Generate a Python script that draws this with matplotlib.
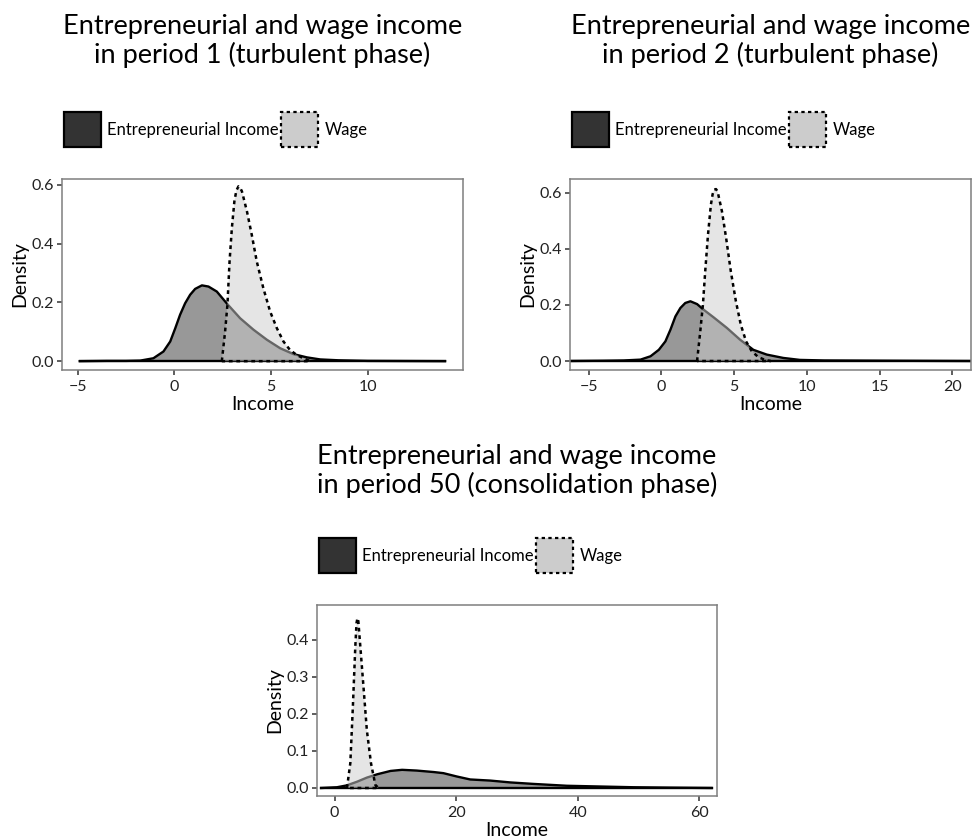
import numpy as np
import matplotlib
matplotlib.use('Agg')
import matplotlib.pyplot as plt
from matplotlib.patches import Patch

plt.rcParams['font.family'] = ['Lato', 'DejaVu Sans']

# densities, one pair of arrays per curve
p1_ent_x = [-4.9, -3.5, -2.5, -1.77, -1.09, -0.57, -0.22, 0.04, 0.29, 0.55, 0.81, 1.07, 1.42, 1.76, 2.19, 2.74, 3.4, 4.09,
            4.78, 5.47, 6.16, 6.85, 7.54, 8.5, 10.0, 12.0, 14.0]
p1_ent_y = [0.0, 0.001, 0.001, 0.002, 0.010, 0.033, 0.067, 0.112, 0.158, 0.197, 0.226, 0.246, 0.258, 0.254, 0.237, 0.194,
            0.146, 0.107, 0.073, 0.044, 0.024, 0.013, 0.006, 0.003, 0.001, 0.0005, 0.0]
p1_wag_x = [2.45, 2.62, 2.74, 2.85, 2.97, 3.1, 3.2, 3.31, 3.4, 3.49, 3.75, 4.0, 4.26, 4.6, 4.95, 5.3, 5.64, 5.98, 6.33, 6.67, 7.02]
p1_wag_y = [0.0, 0.101, 0.192, 0.339, 0.453, 0.544, 0.58, 0.595, 0.59, 0.578, 0.51, 0.43, 0.339, 0.248, 0.169, 0.112, 0.067,
            0.038, 0.021, 0.010, 0.0]

p2_ent_x = [-6.6, -4.0, -2.6, -1.44, -0.75, -0.18, 0.27, 0.62, 0.96, 1.3, 1.64, 1.99, 2.45, 2.9, 3.58, 4.5, 5.41, 6.32, 7.24,
            8.38, 9.52, 11.2, 15.8, 21.6]
p2_ent_y = [0.0, 0.001, 0.002, 0.005, 0.017, 0.040, 0.070, 0.112, 0.159, 0.189, 0.207, 0.213, 0.203, 0.183, 0.156, 0.118,
            0.076, 0.040, 0.023, 0.011, 0.004, 0.002, 0.001, 0.0]
p2_wag_x = [2.45, 2.67, 2.85, 3.01, 3.2, 3.4, 3.52, 3.63, 3.75, 3.86, 4.16, 4.45, 4.77, 5.12, 5.46, 5.82, 6.21, 6.66, 7.12, 7.5]
p2_wag_y = [0.0, 0.106, 0.2, 0.32, 0.45, 0.557, 0.595, 0.611, 0.613, 0.605, 0.534, 0.438, 0.32, 0.213, 0.129, 0.07, 0.035,
            0.014, 0.004, 0.0]

p3_ent_x = [-2.2, 0.38, 2.0, 3.7, 5.3, 7.0, 9.2, 11.1, 13.5, 16.3, 17.9, 20.1, 22.3, 25.6, 28.9, 32.7, 38.2, 43.7, 49.2, 55.0, 62.0]
p3_ent_y = [0.0, 0.002, 0.007, 0.017, 0.028, 0.037, 0.046, 0.049, 0.047, 0.043, 0.04, 0.031, 0.023, 0.02, 0.015, 0.011,
            0.006, 0.004, 0.002, 0.001, 0.0]
p3_wag_x = [2.03, 2.58, 3.0, 3.4, 3.6, 3.75, 3.9, 4.1, 4.66, 5.3, 5.98, 6.7, 7.24]
p3_wag_y = [0.0, 0.067, 0.219, 0.381, 0.445, 0.458, 0.45, 0.408, 0.291, 0.156, 0.067, 0.008, 0.0]

titles = ['Entrepreneurial and wage income\nin period 1 (turbulent phase)',
          'Entrepreneurial and wage income\nin period 2 (turbulent phase)',
          'Entrepreneurial and wage income\nin period 50 (consolidation phase)']
labels = ['Entrepreneurial Income', 'Wage']

ent_col = '#333333'
wag_col = '#cccccc'
dots = (0, (1.5, 1.5))

W, H = 972, 840
fig = plt.figure(figsize=(W / 100, H / 100), dpi=100)

def px_axes(l, t, r, b):
    return fig.add_axes([l / W, 1 - b / H, (r - l) / W, (b - t) / H])

panels = [
    (px_axes(62, 179, 463, 370), p1_ent_x, p1_ent_y, p1_wag_x, p1_wag_y, (-5.82, 14.93), (-0.03, 0.62), [-5, 0, 5, 10], [0, 0.2, 0.4, 0.6], 83.5),
    (px_axes(570, 179, 971, 370), p2_ent_x, p2_ent_y, p2_wag_x, p2_wag_y, (-6.29, 21.29), (-0.032, 0.649), [-5, 0, 5, 10, 15, 20], [0, 0.2, 0.4, 0.6], 83.5),
    (px_axes(317, 605, 717, 796), p3_ent_x, p3_ent_y, p3_wag_x, p3_wag_y, (-2.9, 62.9), (-0.0216, 0.4936), [0, 20, 40, 60], [0, 0.1, 0.2, 0.3, 0.4], 81),
]

for i, (ax, ex, ey, wx, wy, xl, yl, xt, yt, tpad) in enumerate(panels):
    # entrepreneurial first, wage drawn over it with alpha
    ax.fill(ex, ey, facecolor=(0.2, 0.2, 0.2, 0.5), edgecolor='none', zorder=1)
    ax.plot(ex, ey, color='black', lw=1.7, zorder=2)
    ax.plot([ex[0], ex[-1]], [0, 0], color='black', lw=1.7, zorder=2)
    ax.fill(wx, wy, facecolor=(0.8, 0.8, 0.8, 0.5), edgecolor='none', zorder=3)
    ax.plot(wx + [wx[0]], wy + [wy[0]], color='black', lw=1.8, linestyle=dots, zorder=4)
    ax.set_xlim(*xl)
    ax.set_ylim(*yl)
    ax.set_xticks(xt)
    ax.set_xticklabels([str(v).replace('-', '\u2212') for v in xt])
    ax.set_yticks(yt)
    ax.set_yticklabels(['%.1f' % v for v in yt])
    for s in ax.spines.values():
        s.set_color('#7f7f7f')
        s.set_linewidth(1.1)
    ax.tick_params(length=3.5, width=1.1, color='#333333', labelsize=11.5, labelcolor='#222222', pad=2.5)
    ax.tick_params(axis='x', pad=4)
    ax.set_xlabel('Income', fontsize=14, labelpad=1.5)
    ax.set_ylabel('Density', fontsize=14, labelpad=2)
    ax.set_title(titles[i], fontsize=19.5, linespacing=1.12, pad=tpad)
    handles = [Patch(facecolor=ent_col, edgecolor='black', lw=1.6),
               Patch(facecolor=wag_col, edgecolor='black', lw=1.6, linestyle=dots)]
    ax.legend(handles, labels, loc='lower left', bbox_to_anchor=(0.005, 1.165), ncol=2, frameon=False,
              fontsize=12, handlelength=2.2, handleheight=2.9, handletextpad=0.4, columnspacing=0.15,
              borderpad=0, borderaxespad=0)

fig.savefig('out.png', dpi=100)
